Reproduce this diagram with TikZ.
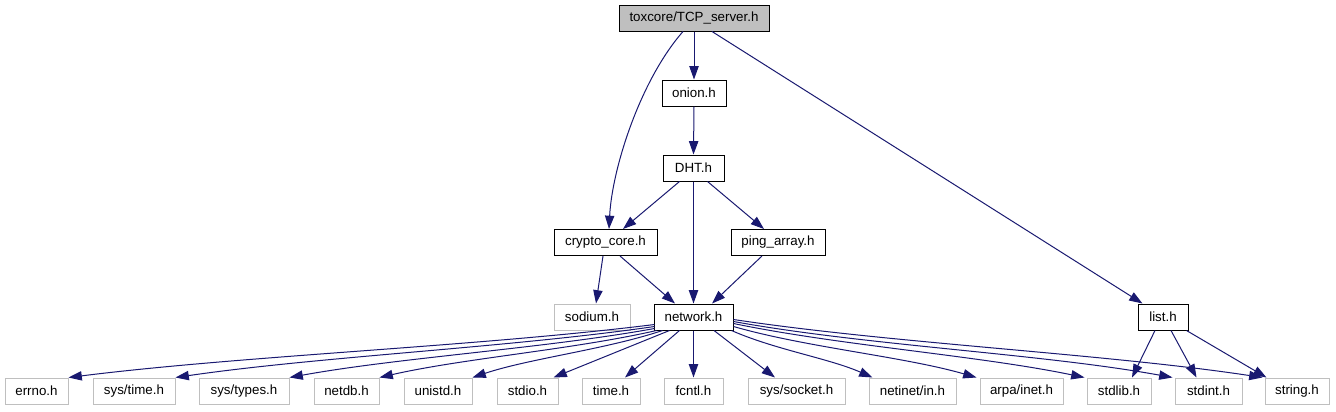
\documentclass[tikz,border=0pt]{standalone}
\usepackage{fontspec}
\setmainfont{Liberation Sans}
\usetikzlibrary{arrows.meta,calc}
\definecolor{edgec}{HTML}{191970}
\definecolor{grayb}{HTML}{BFBFBF}
\begin{document}
\begin{tikzpicture}[x=0.75pt,y=-0.75pt,
  box/.style={draw=black, line width=0.75pt, minimum height=19.5pt, inner xsep=1pt, inner ysep=0pt,
    font=\fontsize{10}{12}\selectfont, text=black},
  gbox/.style={box, draw=grayb},
  dep/.style={draw=edgec, line width=0.75pt, -{Triangle[length=10pt,width=7pt]}}]
\useasboundingbox (0,0) rectangle (1336,411);
% nodes
\node[box, fill=grayb, minimum width=112.5pt] (tcp) at (694,18) {toxcore/TCP\_server.h};
\node[box, minimum width=48pt] (onion) at (694,93) {onion.h};
\node[box, minimum width=45.75pt] (dht) at (693.5,168) {DHT.h};
\node[box, minimum width=77.25pt] (crypto) at (605.5,242.5) {crypto\_core.h};
\node[box, minimum width=70.5pt] (ping) at (778,242.5) {ping\_array.h};
\node[gbox, minimum width=57pt] (sodium) at (592,317) {sodium.h};
\node[box, minimum width=59.25pt] (net) at (693.5,317) {network.h};
\node[box, minimum width=37.5pt] (list) at (1163,317) {list.h};
\node[gbox, minimum width=47.25pt] (errno) at (36.5,391) {errno.h};
\node[gbox, minimum width=61.5pt] (systime) at (134,391) {sys/time.h};
\node[gbox, minimum width=67.5pt] (systypes) at (244,391) {sys/types.h};
\node[gbox, minimum width=48.75pt] (netdb) at (346.5,391) {netdb.h};
\node[gbox, minimum width=51pt] (unistd) at (438,391) {unistd.h};
\node[gbox, minimum width=45.75pt] (stdio) at (527.5,391) {stdio.h};
\node[gbox, minimum width=43.5pt] (time) at (611,391) {time.h};
\node[gbox, minimum width=44.25pt] (fcntl) at (693.5,391) {fcntl.h};
\node[gbox, minimum width=72.75pt] (syssocket) at (796.5,391) {sys/socket.h};
\node[gbox, minimum width=65.25pt] (netinet) at (912.5,391) {netinet/in.h};
\node[gbox, minimum width=62.25pt] (arpa) at (1021.5,391) {arpa/inet.h};
\node[gbox, minimum width=48pt] (stdlib) at (1119,391) {stdlib.h};
\node[gbox, minimum width=50.25pt] (stdint) at (1208.5,391) {stdint.h};
\node[gbox, minimum width=48pt] (string) at (1297,391) {string.h};
% edges from top
\draw[dep] (tcp.south) -- (onion.north);
\draw[dep] ($(tcp.south)+(-11,0)$) .. controls +(-43,49) and +(3,-60) .. ($(crypto.north)+(3.5,0)$);
\draw[dep] ($(tcp.south)+(18,0)$) -- ($(list.north west)+(5,0)$);
\draw[dep] (onion.south) -- (dht.north);
\draw[dep] ($(dht.south)+(-14,0)$) -- ($(crypto.north)+(17.5,0)$);
\draw[dep] (dht.south) -- (net.north);
\draw[dep] ($(dht.south)+(14,0)$) -- ($(ping.north)+(-14,0)$);
\draw[dep] ($(crypto.south)+(-2.5,0)$) -- ($(sodium.north)+(4,0)$);
\draw[dep] ($(crypto.south)+(14.5,0)$) -- ($(net.north)+(-18.5,0)$);
\draw[dep] ($(ping.south)+(-16,0)$) -- ($(net.north)+(18.5,0)$);
% network fan-out
\draw[dep] ($(net.south west)+(1,-6)$) .. controls +(-176,22) and +(176,-22) .. (errno.north east);
\draw[dep] ($(net.south west)+(1,-4)$) .. controls +(-144,21) and +(144,-21) .. (systime.north east);
\draw[dep] ($(net.south west)+(1,-2)$) .. controls +(-110,20) and +(110,-20) .. (systypes.north east);
\draw[dep] ($(net.south west)+(3,0)$) .. controls +(-83,19) and +(83,-19) .. (netdb.north east);
\draw[dep] ($(net.south west)+(9,0)$) .. controls +(-57,19) and +(57,-19) .. (unistd.north east);
\draw[dep] ($(net.south west)+(16,0)$) -- ($(stdio.north east)+(-5,0)$);
\draw[dep] ($(net.south west)+(26,0)$) -- ($(time.north)+(14,0)$);
\draw[dep] (net.south) -- (fcntl.north);
\draw[dep] ($(net.south)+(20.5,0)$) -- ($(syssocket.north)+(-21.5,0)$);
\draw[dep] ($(net.south east)+(-2,0)$) .. controls +(43,19) and +(-43,-19) .. ($(netinet.north west)+(4,0)$);
\draw[dep] ($(net.south east)+(0,-4)$) .. controls +(73,21) and +(-73,-21) .. ($(arpa.north west)+(-3,0)$);
\draw[dep] ($(net.south east)+(0,-7)$) .. controls +(106,22) and +(-106,-22) .. ($(stdlib.north west)+(-2,0)$);
\draw[dep] ($(net.south east)+(0,-9)$) .. controls +(132,24) and +(-132,-24) .. ($(stdint.north west)+(-2,0)$);
\draw[dep] ($(net.south east)+(0,-11)$) .. controls +(159,24) and +(-159,-24) .. ($(string.north west)+(-2,0)$);
% list
\draw[dep] ($(list.south)+(-8,0)$) -- ($(stdlib.north)+(13,0)$);
\draw[dep] ($(list.south)+(8,0)$) -- ($(stdint.north)+(-12,0)$);
\draw[dep] ($(list.south east)+(-2,0)$) -- ($(string.north west)+(2,0)$);
\end{tikzpicture}
\end{document}
